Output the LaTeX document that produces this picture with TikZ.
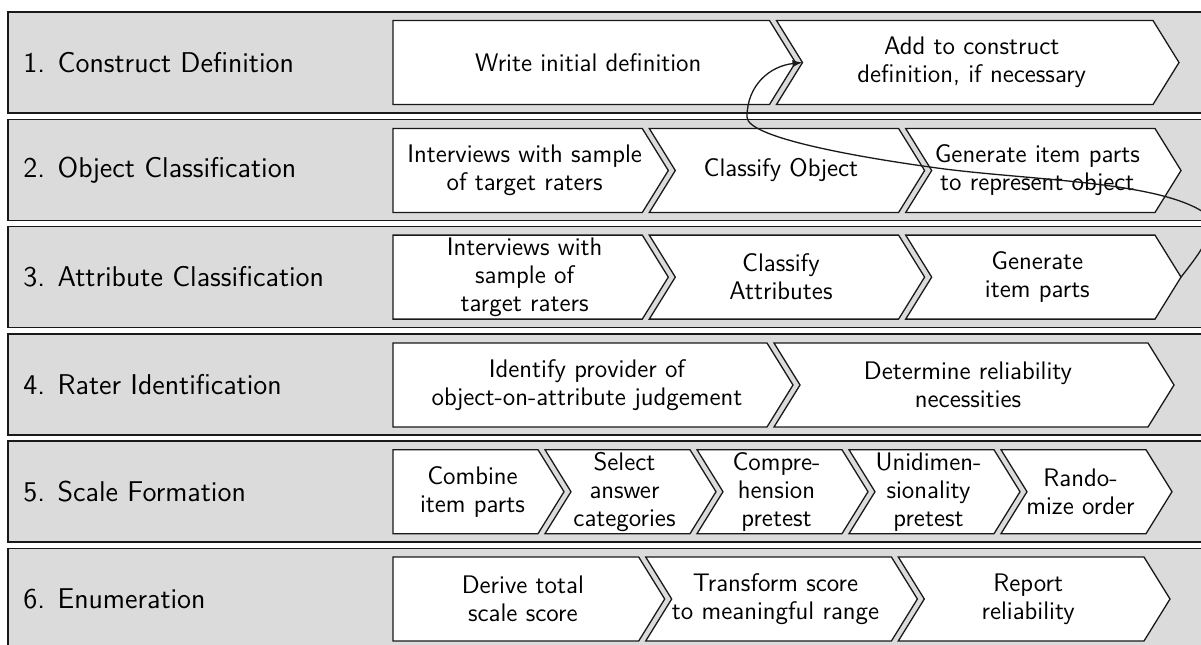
\documentclass[tikz,border=0pt]{standalone}
\usetikzlibrary{arrows.meta}
\definecolor{panelgray}{RGB}{219,219,219}
\definecolor{ink}{RGB}{25,25,25}
\newcommand{\chev}[6]{%
  \draw[chev] (#2,#3-42) -- (#2+#4-26,#3-42) -- (#2+#4,#3) -- (#2+#4-26,#3+42) -- (#2,#3+42) -- (#2+#5,#3) -- cycle;
  \node[ctext] (#1) at (#2+#4/2-6,#3) {#6};
  \coordinate (#1-tip) at (#2+#4,#3);
  \coordinate (#1-notch) at (#2+#5,#3);
}
\newcommand{\panel}[3]{%
  \draw[panelbox] (8,#2-50.5) rectangle (1215,#2+50.5);
  \node[ltext] (#1) at (23,#2) {#3};
}
\begin{document}
\begin{tikzpicture}[x=0.5pt,y=-0.5pt,
  panelbox/.style={draw=ink, fill=panelgray, line width=0.8pt},
  chev/.style={draw=ink, fill=white, line width=0.65pt, line join=miter},
  ctext/.style={font=\sffamily\fontsize{12.7}{14}\selectfont, align=center, inner sep=0pt},
  ltext/.style={font=\sffamily\fontsize{14.3}{16}\selectfont, anchor=west, inner sep=0pt},
  flow/.style={draw=ink, line width=0.65pt, -{Latex[length=5pt,width=3.6pt]}}]
\useasboundingbox (0,0) rectangle (1201,644);
\clip (0,0) rectangle (1201,644);
% panels
\panel{r1}{62.5}{1. Construct Definition}
\panel{r2}{169.8}{2. Object Classification}
\panel{r3}{277.1}{3. Attribute Classification}
\panel{r4}{384.4}{4. Rater Identification}
\panel{r5}{491.7}{5. Scale Formation}
\panel{r6}{599.0}{6. Enumeration}
% row 1
\chev{c11}{393}{62.5}{402.5}{0}{Write initial definition}
\chev{c12}{776.5}{62.5}{402.5}{26}{Add to construct\\definition, if necessary}
% row 2
\chev{c21}{393}{170.5}{275.3}{0}{Interviews with sample\\of target raters}
\chev{c22}{649.3}{170.5}{275.3}{26}{Classify Object}
\chev{c23}{905.7}{170.5}{275.3}{26}{Generate item parts\\to represent object}
% row 3
\chev{c31}{393}{277.1}{275.3}{0}{Interviews with\\sample of\\target raters}
\chev{c32}{649.3}{277.1}{275.3}{26}{Classify\\Attributes}
\chev{c33}{905.7}{277.1}{275.3}{26}{Generate\\item parts}
% row 4
\chev{c41}{393}{385}{400}{0}{Identify provider of\\object-on-attribute judgement}
\chev{c42}{774}{385}{400}{26}{Determine reliability\\necessities}
% row 5
\chev{c51}{393}{491.7}{171}{0}{Combine\\item parts}
\chev{c52}{545}{491.7}{171}{26}{Select\\answer\\categories}
\chev{c53}{697}{491.7}{171}{26}{Compre-\\hension\\pretest}
\chev{c54}{849}{491.7}{171}{26}{Unidimen-\\sionality\\pretest}
\chev{c55}{1001}{491.7}{171}{26}{Rando-\\mize order}
% row 6
\chev{c61}{393}{599.0}{271.7}{0}{Derive total\\scale score}
\chev{c62}{645.7}{599.0}{271.7}{26}{Transform score\\to meaningful range}
\chev{c63}{898.3}{599.0}{271.7}{26}{Report\\reliability}
% feedback connector
\draw[flow] (c33-tip) .. controls (1205.6,246) and (1221.5,222.5) .. (1200,210)
  .. controls (1148,180) and (1019,180) .. (930,167)
  .. controls (851,156) and (747,137) .. (747,117)
  .. controls (747,85) and (770,66) .. (c12-notch);
\end{tikzpicture}
\end{document}
